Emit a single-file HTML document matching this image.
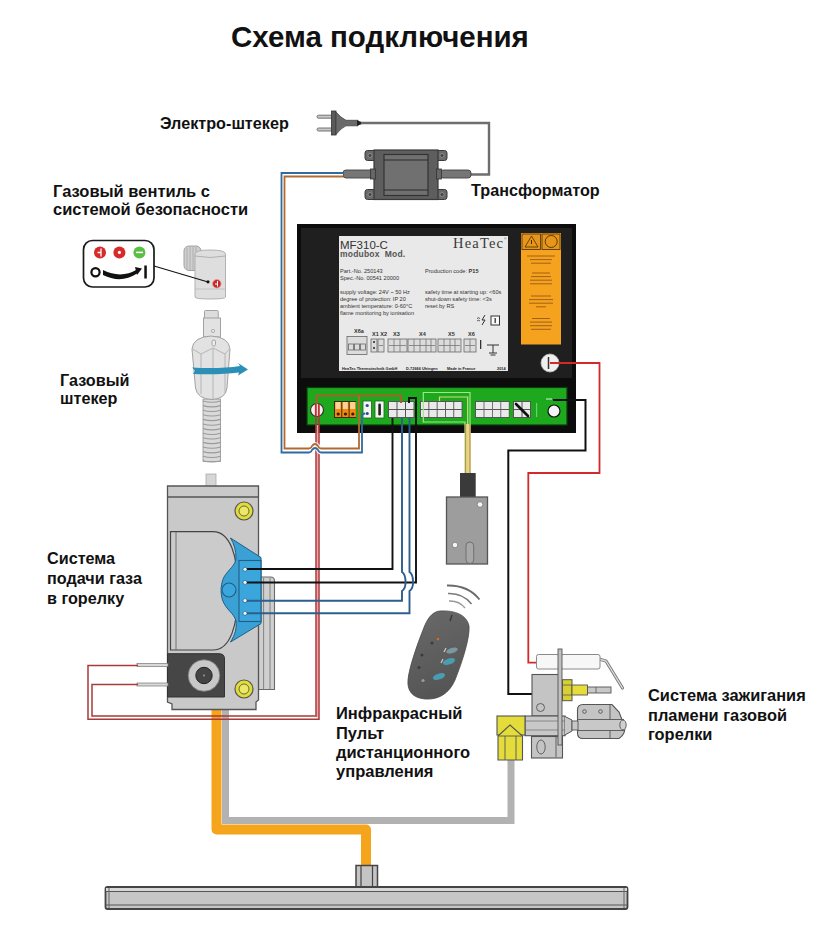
<!DOCTYPE html>
<html><head><meta charset="utf-8">
<style>
html,body{margin:0;padding:0;background:#fff;}
body{width:831px;height:926px;overflow:hidden;}
svg{display:block;}
.lb{font-family:"Liberation Sans",sans-serif;font-weight:bold;font-size:16.2px;fill:#111;}
.sm{font-family:"Liberation Sans",sans-serif;fill:#333;}
</style></head><body>
<svg width="831" height="926" viewBox="0 0 831 926">
<rect width="831" height="926" fill="#fff"/>

<!-- TITLE -->
<text x="231" y="47" style="font-family:'Liberation Sans',sans-serif;font-weight:bold;font-size:29.5px;fill:#111">Схема подключения</text>


<!-- ===== PIPES & BAR ===== -->
<g id="pipes">
<path d="M225.5,709 V820.5 H511 V758" fill="none" stroke="#b2b2b2" stroke-width="7"/>
<path d="M216.5,709 V829.5 H366 V866" fill="none" stroke="#f4a51c" stroke-width="10" stroke-linejoin="round"/>
<rect x="356" y="865.5" width="21.5" height="22" fill="#c4c4c4" stroke="#444" stroke-width="1.5"/>
<line x1="361" y1="866" x2="361" y2="887" stroke="#444" stroke-width="1.2"/>
<line x1="372.5" y1="866" x2="372.5" y2="887" stroke="#444" stroke-width="1.2"/>
<rect x="105.5" y="887" width="522" height="22" rx="2" fill="#c6c6c6" stroke="#444" stroke-width="1.8"/>
<rect x="106" y="888" width="521" height="3" fill="#d8d8d8"/>
<line x1="106" y1="891.5" x2="627" y2="891.5" stroke="#555" stroke-width="1.2"/>
<line x1="106" y1="905" x2="627" y2="905" stroke="#555" stroke-width="1.2"/>
<line x1="109" y1="888" x2="109" y2="908" stroke="#666" stroke-width="1"/>
<line x1="624" y1="888" x2="624" y2="908" stroke="#666" stroke-width="1"/>
</g>

<!-- ===== PLUG + TRANSFORMER ===== -->
<g id="plug">
<rect x="317" y="115.2" width="16" height="3" rx="1.5" fill="#c8c8c8" stroke="#666" stroke-width="0.9"/>
<rect x="317" y="128" width="16" height="3" rx="1.5" fill="#c8c8c8" stroke="#666" stroke-width="0.9"/>
<rect x="331.5" y="111" width="4.5" height="24" fill="#5a5a5a" stroke="#333" stroke-width="0.8"/>
<path d="M336,112 Q341,118 346,120.3 H358 V125.8 H346 Q341,128 336,134.5 Z" fill="#6a6a6a" stroke="#444" stroke-width="0.8"/>
<path d="M357,120.3 L361.5,122 V124.3 L357,125.8 Z" fill="#222"/>
<path d="M361,123 H489 V174.5 H468" fill="none" stroke="#6e6e6e" stroke-width="2.4"/>
</g>
<g id="transformer">
<rect x="440" y="170" width="31" height="8" rx="3" fill="#767676" stroke="#444" stroke-width="0.9"/>
<rect x="343" y="170" width="31" height="8" rx="3" fill="#767676" stroke="#444" stroke-width="0.9"/>
<rect x="365" y="150.5" width="82" height="10" rx="2.5" fill="#6a6a6a" stroke="#3a3a3a" stroke-width="1"/>
<rect x="365" y="189.5" width="82" height="10" rx="2.5" fill="#6a6a6a" stroke="#3a3a3a" stroke-width="1"/>
<circle cx="370" cy="155.5" r="2" fill="#444" stroke="#aaa" stroke-width="0.6"/>
<circle cx="442" cy="155.5" r="2" fill="#444" stroke="#aaa" stroke-width="0.6"/>
<circle cx="370" cy="194.5" r="2" fill="#444" stroke="#aaa" stroke-width="0.6"/>
<circle cx="442" cy="194.5" r="2" fill="#444" stroke="#aaa" stroke-width="0.6"/>
<rect x="374" y="150" width="64" height="49.5" fill="#5e5e5e" stroke="#3a3a3a" stroke-width="1.2"/>
<rect x="370.5" y="169" width="5" height="10" fill="#666" stroke="#333" stroke-width="0.8"/>
<rect x="436.5" y="169" width="5" height="10" fill="#666" stroke="#333" stroke-width="0.8"/>
<rect x="384" y="154.5" width="44" height="41" fill="#707070" stroke="#333" stroke-width="1.2"/>
<line x1="384" y1="160" x2="428" y2="160" stroke="#2a2a2a" stroke-width="1"/>
<line x1="384" y1="190" x2="428" y2="190" stroke="#2a2a2a" stroke-width="1"/>
</g>


<!-- ===== CONTROLLER ===== -->
<g id="controller">
<rect x="297" y="224" width="279" height="209" fill="#0c0c0c"/>
<rect x="301" y="228" width="271" height="150" fill="#1f1f1f"/>
<rect x="339" y="236" width="169" height="135" fill="#e9e9e9"/>
<g class="sm">
<text x="340" y="248.5" style="font-size:11.5px;fill:#333">MF310-C</text>
<text x="340" y="256.5" style="font-size:8.5px;font-weight:bold;fill:#555;letter-spacing:0.2px">modubox&#160;&#160;Mod.</text>
<text x="453" y="247.5" style="font-family:'Liberation Serif',serif;font-size:14.5px;fill:#3a3a3a;letter-spacing:1.2px">HeaTec</text>
<text x="504" y="240" style="font-size:3.5px;fill:#555">®</text>
<text x="340" y="273" style="font-size:5.6px">Part.-No. 250143</text>
<text x="340" y="280" style="font-size:5.6px">Spec.-No. 00541 20000</text>
<text x="340" y="294" style="font-size:5.6px">supply voltage: 24V ~ 50 Hz</text>
<text x="340" y="301" style="font-size:5.6px">degree of protection: IP 20</text>
<text x="340" y="308" style="font-size:5.6px">ambient temperature: 0-60°C</text>
<text x="340" y="315" style="font-size:5.6px">flame monitoring by ionisation</text>
<text x="425" y="273" style="font-size:5.6px">Production code: <tspan style="font-weight:bold">P15</tspan></text>
<text x="425" y="293.5" style="font-size:5.6px">safety time at starting up: &lt;60s</text>
<text x="425" y="300.5" style="font-size:5.6px">shut-down safety time: &lt;3s</text>
<text x="425" y="307.5" style="font-size:5.6px">reset by RS</text>
<text x="354" y="333" style="font-size:5.5px;font-weight:bold">X6a</text>
<text x="372" y="336" style="font-size:5.5px;font-weight:bold">X1 X2</text>
<text x="393" y="336" style="font-size:5.5px;font-weight:bold">X3</text>
<text x="419" y="336" style="font-size:5.5px;font-weight:bold">X4</text>
<text x="448" y="336" style="font-size:5.5px;font-weight:bold">X5</text>
<text x="468" y="336" style="font-size:5.5px;font-weight:bold">X6</text>
<text x="342" y="370" style="font-size:3.9px;font-weight:bold;fill:#222">HeaTec Thermotechnik GmbH</text>
<text x="406" y="370" style="font-size:3.9px;font-weight:bold;fill:#222">D-72666 Uhingen</text>
<text x="447" y="370" style="font-size:3.9px;font-weight:bold;fill:#222">Made in France</text>
<text x="497" y="370" style="font-size:3.9px;font-weight:bold;fill:#222">2014</text>
</g>
<!-- terminal sketches on label -->
<g fill="#dcdcdc" stroke="#666" stroke-width="0.8">
<rect x="347" y="336.5" width="20" height="18"/>
<rect x="348.5" y="344" width="5" height="6"/><rect x="354.5" y="344" width="5" height="6"/><rect x="360.5" y="344" width="5" height="6"/>
<rect x="371" y="339" width="6" height="13"/>
<rect x="378" y="339" width="6" height="13"/>
<rect x="388" y="339" width="19" height="13"/>
<rect x="408" y="339" width="28" height="13"/>
<rect x="438" y="339" width="23" height="13"/>
<rect x="464" y="339" width="12" height="13"/>
</g>
<g fill="none" stroke="#777" stroke-width="0.8">
<path d="M389,345.5 H406 M394,339 V352 M400,339 V352"/>
<path d="M409,345.5 H435 M414,339 V352 M420,339 V352 M426,339 V352 M431,339 V352"/>
<path d="M439,345.5 H460 M444,339 V352 M450,339 V352 M455,339 V352"/>
<path d="M465,345.5 H475 M470,339 V352"/>
<path d="M379,345.5 H383"/>
</g>
<circle cx="374" cy="342" r="1" fill="#222"/><circle cx="374" cy="348" r="1" fill="#222"/>
<rect x="480" y="340" width="1.3" height="9" fill="#333"/>
<path d="M487,345 H499 M493,345 V353 M489,353 H497 M490.5,355 H495.5" stroke="#333" stroke-width="1" fill="none"/>
<rect x="491" y="316" width="8.5" height="9" fill="#fafafa" stroke="#333" stroke-width="1"/>
<path d="M495.2,318 V323" stroke="#333" stroke-width="1.3"/>
<path d="M477,318.5 q1.5,-1.5 3,0 M477,321 q1.5,-1.5 3,0" stroke="#333" stroke-width="0.8" fill="none"/>
<path d="M485,315 L482,320 H485 L482,325" stroke="#333" stroke-width="1" fill="none"/>

<!-- orange sticker -->
<rect x="521" y="233" width="40" height="111.5" fill="#f5a21e"/>
<rect x="522" y="234" width="18.5" height="15.5" fill="#e8961a" stroke="#5a3a10" stroke-width="0.9"/>
<rect x="542" y="234" width="18" height="15.5" fill="#e8961a" stroke="#5a3a10" stroke-width="0.9"/>
<path d="M531.5,236 L538,247 H525 Z" fill="none" stroke="#4a3000" stroke-width="0.8"/>
<path d="M531.5,240 V244" stroke="#4a3000" stroke-width="1"/>
<circle cx="551.2" cy="241.5" r="6" fill="none" stroke="#4a3000" stroke-width="0.9"/>
<path d="M527.0,256.0 H555.0 M530.0,259.6 H552.0 M531.0,263.2 H551.0 M532.0,273.0 H550.0 M531.0,276.6 H551.0 M530.0,280.2 H552.0 M530.0,283.8 H552.0 M531.0,296.0 H551.0 M529.0,299.6 H553.0 M529.0,303.2 H553.0 M536.0,306.8 H546.0 M532.0,318.5 H550.0 M530.0,322.1 H552.0 M530.0,325.7 H552.0 M531.0,329.3 H551.0" stroke="#7a4212" stroke-width="0.9" opacity="0.75" fill="none"/>
<!-- ignition terminal circle -->
<circle cx="550" cy="363" r="9" fill="#efefef" stroke="#bbb" stroke-width="0.8"/>
<path d="M548.5,357 V369" stroke="#333" stroke-width="1.5"/>

<!-- green board -->
<rect x="307" y="387.5" width="260" height="37.5" fill="#1ea81e" stroke="#0b3d0b" stroke-width="1.2"/>
<!-- left red circle -->
<circle cx="317" cy="410" r="6.5" fill="#f4f0f0" stroke="#333" stroke-width="1.2"/>
<!-- orange terminal block -->
<rect x="334" y="401" width="22" height="17" fill="#3a2a10"/>
<rect x="335" y="402" width="6.3" height="15" fill="#f08a10"/>
<rect x="342.3" y="402" width="6.3" height="15" fill="#f08a10"/>
<rect x="349.6" y="402" width="6.3" height="15" fill="#f08a10"/>
<rect x="335.5" y="402" width="5" height="7" fill="#fbd39a"/>
<rect x="342.8" y="402" width="5" height="7" fill="#fbd39a"/>
<rect x="350.1" y="402" width="5" height="7" fill="#fbd39a"/>
<circle cx="338.2" cy="414" r="1.6" fill="#3a1a00"/><circle cx="345.5" cy="414" r="1.6" fill="#3a1a00"/><circle cx="352.8" cy="414" r="1.6" fill="#3a1a00"/>
<!-- white block w/ blue dots -->
<rect x="363" y="401" width="8.5" height="17" fill="#f4f4f4" stroke="#1a6a1a" stroke-width="0.8"/>
<circle cx="367.2" cy="405.5" r="1.6" fill="#2a4a8a"/><circle cx="367.2" cy="413.5" r="1.6" fill="#2a4a8a"/>
<!-- fuse -->
<rect x="375" y="401" width="9" height="17" fill="#f4f4f4" stroke="#1a6a1a" stroke-width="0.8"/>
<rect x="378.3" y="403.5" width="2.6" height="12" rx="1.3" fill="#222"/>
<!-- 3x2 block -->
<rect x="388" y="401" width="26.5" height="17" fill="#555"/>
<g fill="#eaeaea">
<rect x="389" y="402" width="7.5" height="7"/><rect x="397.5" y="402" width="7.5" height="7"/><rect x="406" y="402" width="7.5" height="7"/>
<rect x="389" y="410" width="7.5" height="7"/><rect x="397.5" y="410" width="7.5" height="7"/><rect x="406" y="410" width="7.5" height="7"/>
</g>
<!-- 5x2 block -->
<rect x="420" y="401" width="42.5" height="17" fill="#555"/>
<g fill="#eaeaea">
<rect x="421" y="402" width="7.4" height="7"/><rect x="429.3" y="402" width="7.4" height="7"/><rect x="437.6" y="402" width="7.4" height="7"/><rect x="445.9" y="402" width="7.4" height="7"/><rect x="454.2" y="402" width="7.4" height="7"/>
<rect x="421" y="410" width="7.4" height="7"/><rect x="429.3" y="410" width="7.4" height="7"/><rect x="437.6" y="410" width="7.4" height="7"/><rect x="445.9" y="410" width="7.4" height="7"/><rect x="454.2" y="410" width="7.4" height="7"/>
</g>
<!-- 4x2 block -->
<rect x="475" y="401" width="34.5" height="17" fill="#555"/>
<g fill="#eaeaea">
<rect x="476" y="402" width="7.6" height="7"/><rect x="484.4" y="402" width="7.6" height="7"/><rect x="492.8" y="402" width="7.6" height="7"/><rect x="501.2" y="402" width="7.6" height="7"/>
<rect x="476" y="410" width="7.6" height="7"/><rect x="484.4" y="410" width="7.6" height="7"/><rect x="492.8" y="410" width="7.6" height="7"/><rect x="501.2" y="410" width="7.6" height="7"/>
</g>
<!-- diagonal block -->
<rect x="513" y="401" width="18" height="17" fill="#555"/>
<g fill="#eaeaea"><rect x="514" y="402" width="7.5" height="7"/><rect x="522.5" y="402" width="7.5" height="7"/><rect x="514" y="410" width="7.5" height="7"/><rect x="522.5" y="410" width="7.5" height="7"/></g>
<path d="M516,404 L528,416" stroke="#111" stroke-width="2.6" stroke-linecap="round"/>
<rect x="536" y="403" width="1.2" height="14" fill="#6cd070"/>
<rect x="546" y="398" width="6" height="2" fill="#7ad07a"/>
<circle cx="554" cy="411" r="6" fill="#f4f4f4" stroke="#111" stroke-width="1.2"/>
</g>


<!-- ===== GAS VALVE BLOCK ===== -->
<g id="gasblock">
<rect x="206" y="474" width="10" height="13" fill="#d6d6d6" stroke="#aaa" stroke-width="0.8"/>
<path d="M258,577 H270.5 Q274.5,577 274.5,581 V689.5 H258 Z" fill="#cfcfcf" stroke="#6a6a6a" stroke-width="1.1"/>
<path d="M263.6,578 V689 M270,578 V689" stroke="#7a7a7a" stroke-width="0.9" fill="none"/>
<path d="M167.5,486 H258.5 V700 L256,702 V709.5 H172 V704 L167.5,702 Z" fill="#c9c9c9" stroke="#555" stroke-width="1.3"/>
<line x1="168" y1="497" x2="258" y2="497" stroke="#555" stroke-width="1.4"/>
<path d="M170.5,650 V531.6 H213 C230,531.6 238,555 238,590.8 C238,626 230,650 213,650 Z" fill="#cbcbcb" stroke="#444" stroke-width="1.2"/>
<line x1="176" y1="532" x2="176" y2="650" stroke="#666" stroke-width="0.9"/>
<!-- blue connector -->
<path d="M230.5,538 L261,557.5 V623.6 L230.5,642 C235,635 237,628 236,621 C234,613 226,610 222.5,600 C220,592 221,583 224,577 C228,570 236,565 236,558 C236,550 234,544 230.5,538 Z" fill="#3ba0d4" stroke="#1f5f88" stroke-width="1"/>
<rect x="239" y="560.5" width="22" height="61" fill="#3aa6dc" stroke="#1f5f88" stroke-width="1.1"/>
<circle cx="229" cy="590" r="7" fill="#3ba6dc" stroke="#1f5f88" stroke-width="1.1"/>
<!-- yellow bolts -->
<circle cx="244" cy="511" r="9" fill="#e2dc3a" stroke="#555" stroke-width="1.2"/>
<circle cx="244" cy="511" r="5" fill="#ece86a" stroke="#6a6a30" stroke-width="1"/>
<circle cx="244" cy="689" r="9" fill="#e2dc3a" stroke="#555" stroke-width="1.2"/>
<circle cx="244" cy="689" r="5" fill="#ece86a" stroke="#6a6a30" stroke-width="1"/>
<!-- solenoid -->
<path d="M167.5,653.7 H219 Q224.5,653.7 224.5,659 V697 H167.5 Z" fill="#464646" stroke="#333" stroke-width="1"/>
<circle cx="204" cy="675.5" r="15.8" fill="#c8c8c8" stroke="#777" stroke-width="0.8"/>
<circle cx="204" cy="675.5" r="8.2" fill="#444" stroke="#222" stroke-width="1"/>
<circle cx="204" cy="675.5" r="1" fill="#999"/>
<!-- pins -->
<rect x="137" y="663.5" width="31" height="3" fill="#d8d8d8" stroke="#777" stroke-width="0.7"/>
<rect x="137" y="683" width="31" height="3" fill="#d8d8d8" stroke="#777" stroke-width="0.7"/>
</g>

<!-- ===== WIRES ===== -->
<g id="wires" fill="none" stroke-linejoin="miter">
<!-- red double verticals -->
<g stroke="#f2a2aa" stroke-width="2.4"><path d="M317.5,425 V717.5"/></g>
<path d="M316,404 V716 H92 V684.5 H138" stroke="#a83a3a" stroke-width="1.5"/>
<path d="M319,404 V719.3 H88 V665.5 H138" stroke="#a83a3a" stroke-width="1.5"/>
<!-- white halos -->
<g stroke="#fff" stroke-width="4.2" opacity="0.9">
<path d="M343,173 H281.5 V452.5 H309 q2,0 3,-2.5 q3,-4 6,0 q1,2.5 3,2.5 H362 V433"/>
<path d="M343,176.5 H284.5 V448.5 H309 q2,0 3,-2.5 q3,-4 6,0 q1,2.5 3,2.5 H359 V433"/>
</g>
<path d="M343,173 H281.5 V452.5 H309 q2,0 3,-2.5 q3,-4 6,0 q1,2.5 3,2.5 H362 V416 q0,-2.5 3,-2.5" stroke="#2f6aa0" stroke-width="1.8"/>
<path d="M343,176.5 H284.5 V448.5 H309 q2,0 3,-2.5 q3,-4 6,0 q1,2.5 3,2.5 H359 V395.5" stroke="#b36a2e" stroke-width="1.8"/>
<!-- brown on board -->
<path d="M316.5,404 V395.5 H401 V403" stroke="#a0642a" stroke-width="2.2"/>
<!-- black & blue to gas valve -->
<path d="M392.5,418 V569 H245" stroke="#111" stroke-width="1.9"/>
<path d="M409,403 V398 H416 V582.5 H245" stroke="#111" stroke-width="1.9"/>
<path d="M402,417 V572 C406.5,575 407,588 402,591 V600.7 H245" stroke="#2c5f8e" stroke-width="1.9"/>
<path d="M409.5,417 V572 C414,575 414.5,588 409.5,591 V613.2 H245" stroke="#2c5f8e" stroke-width="1.9"/>
<!-- light green outlines on board -->
<path d="M470,476 V392.5 H423.3 V422 H465 V476" stroke="#9be88a" stroke-width="1.2"/>
<path d="M439.5,401 V397 H467.7 V425" stroke="#cfe07a" stroke-width="1.2"/>
<!-- yellow sensor wires -->
<rect x="465" y="424" width="5.5" height="50" fill="#e6d48a"/>
<path d="M465.6,424 V474 M469.9,424 V474" stroke="#c09048" stroke-width="1.1"/>
<!-- black to ignition -->
<path d="M553,400 H585.5 V450.5 H508.3 V694 H532.5" stroke="#111" stroke-width="2"/>
<!-- red to electrode -->
<path d="M550,363 H599.5 V473 H528.3 V662.6 H537" stroke="#d22a2a" stroke-width="1.8"/>
<!-- red marks in left circle -->
<path d="M315.5,404 V416 M318.5,404 V416" stroke="#d22a2a" stroke-width="1.2"/>
</g>


<!-- connector pins -->
<g fill="#f4f8fb" stroke="#1f4f78" stroke-width="0.6">
<circle cx="245" cy="569.3" r="2"/><circle cx="245" cy="582.4" r="2"/><circle cx="245" cy="600.6" r="2"/><circle cx="245" cy="613.3" r="2"/>
</g>
<!-- ===== SENSOR BOX ===== -->
<g id="sensor">
<rect x="460" y="473" width="15.7" height="25" fill="#3a3a3a"/>
<rect x="446.5" y="497" width="41" height="67" fill="#9d9d9d" stroke="#555" stroke-width="1.3"/>
<circle cx="480" cy="504.5" r="2.8" fill="#f4f4f4" stroke="#777" stroke-width="0.8"/>
<circle cx="455" cy="545" r="2.8" fill="#f4f4f4" stroke="#777" stroke-width="0.8"/>
<rect x="466" y="542" width="7.7" height="21.5" rx="3.8" fill="#a8a8a8" stroke="#6a6a6a" stroke-width="0.9"/>
</g>

<!-- ===== REMOTE ===== -->
<g id="remote">
<path d="M447,585.5 Q468,585 479.5,599.5" fill="none" stroke="#6a6a6a" stroke-width="1.8"/>
<path d="M448,593.5 Q463,593 471.5,604" fill="none" stroke="#7a7a7a" stroke-width="1.6"/>
<path d="M449,601 Q459,600.5 465,608" fill="none" stroke="#9a9a9a" stroke-width="1.5"/>
<defs><linearGradient id="rg" x1="0" y1="0" x2="0.3" y2="1"><stop offset="0" stop-color="#6a6a6a"/><stop offset="1" stop-color="#555"/></linearGradient></defs>
<path d="M440,611 C455,610 467,615 469,626 C470,637 463,660 455,680 C449,694 438,700 425,699 C412,698 407,690 408,680 C409,668 417,645 423,630 C427,619 432,611.5 440,611 Z" fill="url(#rg)" stroke="#4a4a4a" stroke-width="0.8"/>
<path d="M452,615 L450,621" stroke="#333" stroke-width="1.3"/>
<ellipse cx="452" cy="650.5" rx="6" ry="2.6" transform="rotate(-18 452 650.5)" fill="#7a98a2"/>
<ellipse cx="449" cy="661.5" rx="6.3" ry="3" transform="rotate(-18 449 661.5)" fill="#4a9cb0"/>
<ellipse cx="439" cy="676.5" rx="6.3" ry="3" transform="rotate(-18 439 676.5)" fill="#4a9cb0"/>
<circle cx="432" cy="643" r="1.5" fill="#3a3a3a"/>
<circle cx="438" cy="639" r="1.3" fill="#c8702a"/>
<circle cx="422" cy="655" r="1.5" fill="#3a3a3a"/>
<circle cx="419" cy="667.5" r="1.5" fill="#3a3a3a"/>
<circle cx="423" cy="680.5" r="1.6" fill="#9a9a9a"/>
<path d="M444,652 L446,648 M441,663 L443,659" stroke="#ccc" stroke-width="1.2"/>
</g>

<!-- ===== GAS VALVE ICON ===== -->
<g id="valveicon">
<rect x="83.5" y="240.5" width="70.5" height="46.5" rx="9" fill="#fff" stroke="#1a1a1a" stroke-width="1.7"/>
<circle cx="100" cy="252.4" r="6" fill="#d72a2a"/>
<circle cx="119.4" cy="252.4" r="6" fill="#d72a2a"/>
<circle cx="139.4" cy="252.4" r="6" fill="#5cbf45"/>
<path d="M101,248.5 V256.5 M97.5,252.5 H101" stroke="#fff" stroke-width="1.3"/>
<circle cx="119.4" cy="252.4" r="1.6" fill="#fff"/>
<path d="M136,252.4 H143" stroke="#fff" stroke-width="1.5"/>
<circle cx="95.5" cy="272.2" r="4.1" fill="none" stroke="#111" stroke-width="2.2"/>
<path d="M103,270 Q121,279 137,269.5 L137,273.5 Q121,284 103,275 Z" fill="#111"/>
<path d="M135,267 L142,268.5 L137,275 Z" fill="#111"/>
<rect x="144.3" y="265.5" width="2.5" height="13" fill="#111"/>
<!-- valve -->
<rect x="184" y="246" width="17" height="24.5" rx="5" fill="#cfcfcf" stroke="#999" stroke-width="0.9"/>
<path d="M187,248 V269 M190,247 V270 M193,247 V270 M196,247 V270" stroke="#a8a8a8" stroke-width="0.8"/>
<path d="M195,254 Q195,250 210,250 Q225.5,250 225.5,254 V297 Q225.5,299 210,299 Q195,299 195,297 Z" fill="#dedede" stroke="#aaa" stroke-width="0.9"/>
<path d="M195,256 Q210,259 225.5,256" fill="none" stroke="#aaa" stroke-width="0.9"/>
<path d="M195,289 H225.5" stroke="#bbb" stroke-width="0.8"/>
<line x1="154" y1="266" x2="208" y2="282" stroke="#111" stroke-width="1.1"/>
<circle cx="208" cy="281.8" r="1.6" fill="#111"/>
<circle cx="216.8" cy="283.8" r="4.3" fill="#c62a2a" stroke="#e8a0a0" stroke-width="0.8"/>
<path d="M217.5,281 V286.5 M215,284 H217.5" stroke="#fff" stroke-width="1"/>
</g>

<!-- ===== GAS PLUG ===== -->
<g id="gasplug" stroke="#9a9a9a" stroke-width="0.9">
<path d="M203,399 H220.5 V461.5 H203 Z" fill="#d9d9d9"/>
<path d="M203,401.0 q9,2.5 17.5,0 M203,405.6 q9,2.5 17.5,0 M203,410.2 q9,2.5 17.5,0 M203,414.8 q9,2.5 17.5,0 M203,419.4 q9,2.5 17.5,0 M203,424.0 q9,2.5 17.5,0 M203,428.6 q9,2.5 17.5,0 M203,433.2 q9,2.5 17.5,0 M203,437.8 q9,2.5 17.5,0 M203,442.4 q9,2.5 17.5,0 M203,447.0 q9,2.5 17.5,0 M203,451.6 q9,2.5 17.5,0 M203,456.2 q9,2.5 17.5,0 M203,460.8 q9,2.5 17.5,0" stroke="#9a9a9a" stroke-width="1.1" fill="none"/>
<rect x="204.5" y="310.5" width="13.8" height="8" rx="1" fill="#dcdcdc"/>
<rect x="203.5" y="318" width="17" height="19" fill="#e2e2e2"/>
<circle cx="213" cy="331" r="1.5" fill="#fff"/>
<path d="M192,349 Q193,337 211,336 Q229,337 230,349 L227,388 Q225.5,399 212,399.5 Q197.5,399 195.5,388 Z" fill="#e2e2e2"/>
<path d="M192.5,349 L201,354 L213,348 L225,354 L229.5,349 M201,354 V394 M213,348 V399 M225,354 V393" fill="none" stroke="#b0b0b0" stroke-width="0.9"/>
<rect x="212" y="340" width="3.5" height="6" rx="1.7" fill="#eee"/>
</g>
<path d="M192,367.5 Q220,369 240,366 L238,363 L248,369.5 L238,375.5 L239,372.5 Q220,375 193,374 L195,370.5 Z" fill="#2b8fb8"/>


<!-- ===== IGNITION ===== -->
<g id="ignition">
<!-- angled rod -->
<path d="M599,659 L606,661 L622.5,688" fill="none" stroke="#777" stroke-width="3.2" stroke-linecap="round"/>
<path d="M599,659 L606,661 L622.5,688" fill="none" stroke="#ddd" stroke-width="1.4" stroke-linecap="round"/>
<!-- electrode -->
<rect x="536.5" y="654.5" width="63.5" height="14.5" rx="2" fill="#f7f7f7" stroke="#8a8a8a" stroke-width="1"/>
<!-- bracket block upper -->
<rect x="532" y="674.5" width="27" height="41.5" fill="#c4c4c4" stroke="#555" stroke-width="1.1"/>
<circle cx="540.5" cy="707.5" r="4" fill="#c4c4c4" stroke="#555" stroke-width="0.9"/>
<!-- lower block -->
<rect x="531.5" y="736.5" width="31" height="21.5" fill="#c4c4c4" stroke="#555" stroke-width="1.1"/>
<ellipse cx="541" cy="747" rx="4.2" ry="7" fill="none" stroke="#555" stroke-width="0.9"/>
<path d="M556,737 V757" stroke="#555" stroke-width="0.9"/>
<!-- right burner bracket -->
<path d="M577.5,710 Q577.5,704.5 583,704.5 H612 L619,712 L624.5,726 Q626,734 619,738.5 H583 Q577.5,738.5 577.5,733 Z" fill="#c4c4c4" stroke="#555" stroke-width="1.1"/>
<circle cx="584.5" cy="711.5" r="1.8" fill="none" stroke="#555" stroke-width="0.9"/>
<circle cx="600.5" cy="711.5" r="1.8" fill="none" stroke="#555" stroke-width="0.9"/>
<path d="M610,704.5 V738.5" stroke="#555" stroke-width="0.9"/>
<rect x="577.5" y="719.5" width="46" height="11" fill="#c8c8c8" stroke="#555" stroke-width="0.9"/>
<ellipse cx="623" cy="725" rx="3.2" ry="5" fill="#d0d0d0" stroke="#555" stroke-width="0.9"/>
<!-- horizontal gas body -->
<rect x="525" y="716" width="40" height="19.7" fill="#c8c8c8" stroke="#555" stroke-width="1.1"/>
<path d="M525,721 H565 M525,730 H565" stroke="#777" stroke-width="0.8"/>
<path d="M565,716.5 L572,720 V731 L565,735" fill="#c8c8c8" stroke="#555" stroke-width="1"/>
<rect x="572" y="721" width="6" height="9" fill="#c8c8c8" stroke="#555" stroke-width="0.9"/>
<!-- vertical plate -->
<rect x="558" y="649" width="4" height="96" fill="#c0c0c0" stroke="#555" stroke-width="0.9"/>
<!-- yellow nut & rod -->
<rect x="562.5" y="679.7" width="9.5" height="21" fill="#d8d030" stroke="#555" stroke-width="1"/>
<path d="M562.5,685 H572 M562.5,695 H572" stroke="#555" stroke-width="0.8"/>
<rect x="572" y="685" width="15.5" height="10" fill="#e6dc3a" stroke="#555" stroke-width="0.9"/>
<rect x="587.5" y="687" width="23.5" height="6" fill="#c8c8c8" stroke="#555" stroke-width="0.9"/>
<path d="M596,687 V693" stroke="#555" stroke-width="0.8"/>
<!-- yellow elbow & nut -->
<rect x="497" y="716" width="28" height="19" fill="#e3dc3a" stroke="#555" stroke-width="1.1"/>
<path d="M498,736 L510,725 L522.5,736 V760 H498 Z" fill="#e3dc3a" stroke="#555" stroke-width="1.1"/>
<path d="M498,736 H522.5 M505,736 V760 M516,736 V760" stroke="#555" stroke-width="0.9"/>
</g>

<!-- LABELS -->
<text class="lb" x="160" y="129">Электро-штекер</text>
<text class="lb" x="471" y="196">Трансформатор</text>
<text class="lb" style="font-size:16.5px" x="53" y="197">Газовый вентиль с</text>
<text class="lb" style="font-size:16.5px" x="53" y="215">системой безопасности</text>
<text class="lb" x="60" y="386">Газовый</text>
<text class="lb" x="60" y="404">штекер</text>
<text class="lb" x="47" y="564">Система</text>
<text class="lb" x="47" y="583.5">подачи газа</text>
<text class="lb" x="47" y="603.5">в горелку</text>
<text class="lb" style="font-size:16.5px" x="336" y="719">Инфракрасный</text>
<text class="lb" style="font-size:16.5px" x="336" y="738.5">Пульт</text>
<text class="lb" style="font-size:16.5px" x="336" y="758">дистанционного</text>
<text class="lb" style="font-size:16.5px" x="336" y="777">управления</text>
<text class="lb" style="font-size:16.4px" x="648" y="701">Система зажигания</text>
<text class="lb" style="font-size:16.4px" x="648" y="721">пламени газовой</text>
<text class="lb" style="font-size:16.4px" x="648" y="739.5">горелки</text>

</svg>
</body></html>
